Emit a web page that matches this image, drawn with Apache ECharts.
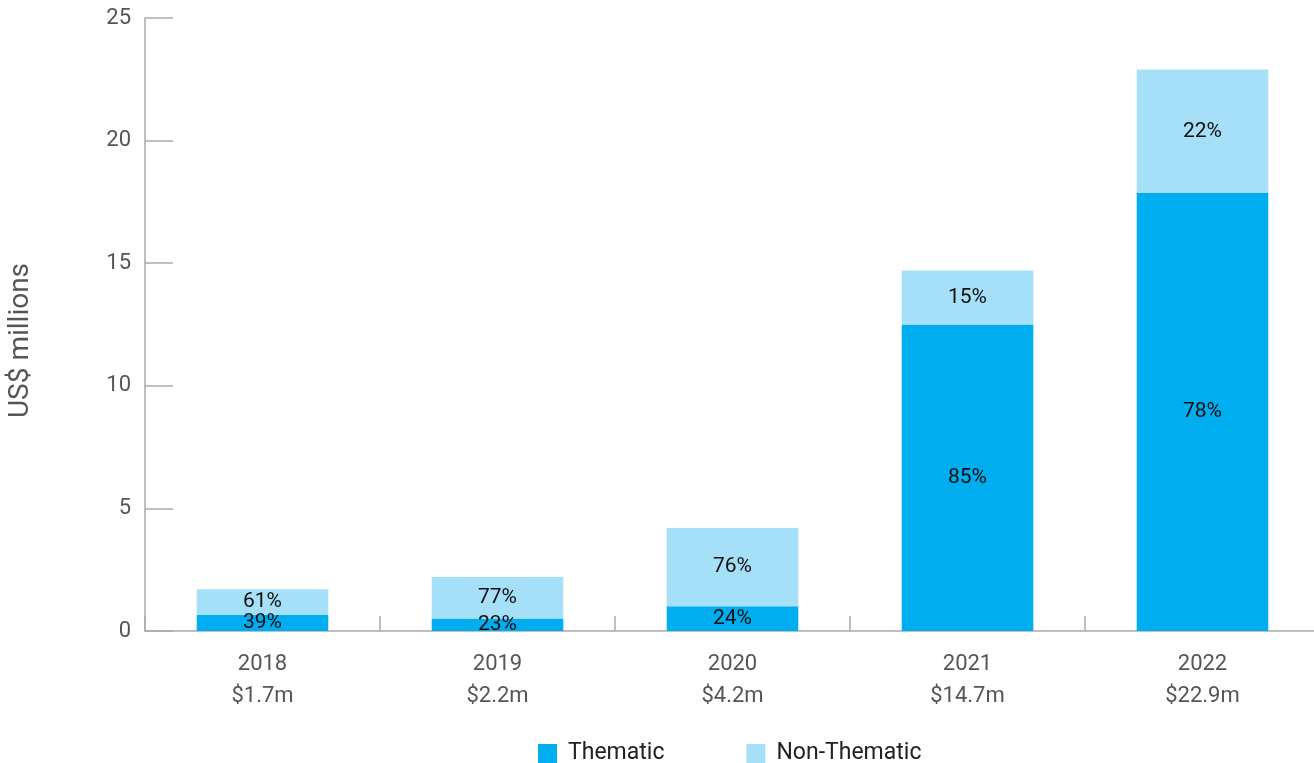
<!DOCTYPE html>
<html>
<head>
<meta charset="utf-8">
<script src="https://cdn.jsdelivr.net/npm/echarts@6/dist/echarts.min.js"></script>
<style>
  html, body { margin: 0; padding: 0; background: #fff; }
  #chart { width: 1314px; height: 763px; }
</style>
</head>
<body>
<div id="chart"></div>
<script>
  var years = ['2018', '2019', '2020', '2021', '2022']
  var totals = ['$1.7m', '$2.2m', '$4.2m', '$14.7m', '$22.9m']
  var thematic = [0.66, 0.51, 1.01, 12.5, 17.86]
  var nonThematic = [1.04, 1.69, 3.19, 2.2, 5.04]
  var thematicPct = [39, 23, 24, 85, 78]
  var nonThematicPct = [61, 77, 76, 15, 22]

  var categories = years.map(function (y, i) { return y + '\n' + totals[i] })

  var chart = echarts.init(document.getElementById('chart'))

  var labelStyle = {
    show: true,
    position: 'inside',
    color: '#111',
    fontSize: 21,
    fontFamily: 'Roboto'
  }

  var option = {
    textStyle: { fontFamily: 'Roboto' },
    grid: {
      left: 145,
      width: 1175,
      top: 18,
      bottom: 132,
      containLabel: false,
      outerBoundsMode: 'none'
    },
    legend: {
      top: 742,
      left: 538,
      padding: 0,
      itemWidth: 19,
      itemHeight: 19,
      itemGap: 82,
      icon: 'rect',
      textStyle: { fontSize: 23, color: '#222', fontFamily: 'Roboto', padding: [0, 0, 0, 6] },
      data: ['Thematic', 'Non-Thematic']
    },
    xAxis: {
      type: 'category',
      data: categories,
      axisLine: { lineStyle: { color: '#aaa', width: 1.5 } },
      axisTick: { show: true, inside: true, length: 15, lineStyle: { color: '#aaa', width: 1.5 } },
      axisLabel: {
        color: '#555',
        fontSize: 22,
        lineHeight: 32,
        margin: 17
      }
    },
    yAxis: {
      type: 'value',
      min: 0,
      max: 25,
      interval: 5,
      name: 'US$ millions',
      nameLocation: 'middle',
      nameGap: 110,
      nameTextStyle: { color: '#555', fontSize: 28, padding: [0, 32, 0, 0] },
      axisLine: { show: true, lineStyle: { color: '#aaa', width: 1.5 } },
      axisTick: { show: true, inside: true, length: 28, lineStyle: { color: '#aaa', width: 1.5 } },
      axisLabel: { color: '#555', fontSize: 22, margin: 14, padding: [9, 0, 0, 0] },
      splitLine: { show: false }
    },
    series: [
      {
        name: 'Thematic',
        type: 'bar',
        stack: 'total',
        barWidth: '56%',
        itemStyle: { color: '#00adef' },
        label: Object.assign({}, labelStyle, {
          formatter: function (p) { return thematicPct[p.dataIndex] + '%' }
        }),
        data: thematic
      },
      {
        name: 'Non-Thematic',
        type: 'bar',
        stack: 'total',
        barWidth: '56%',
        itemStyle: { color: '#a6dff8' },
        label: Object.assign({}, labelStyle, {
          formatter: function (p) { return nonThematicPct[p.dataIndex] + '%' }
        }),
        data: nonThematic
      }
    ]
  }

  chart.setOption(option)
  window.addEventListener('resize', function () { chart.resize() })
</script>
</body>
</html>
